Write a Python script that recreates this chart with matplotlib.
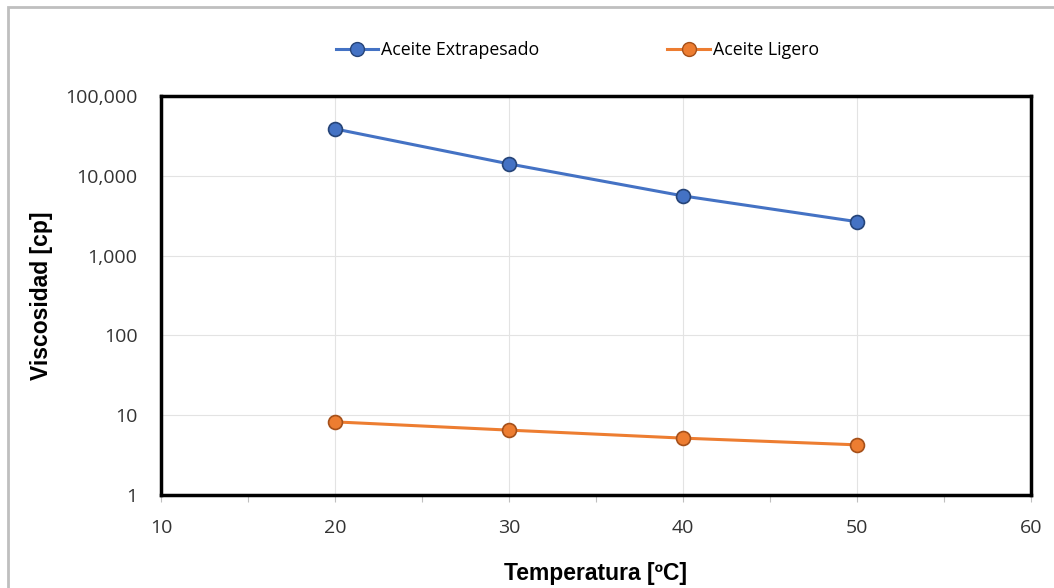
import matplotlib
matplotlib.use("Agg")
import matplotlib.pyplot as plt
from matplotlib.ticker import FuncFormatter, FixedLocator, MultipleLocator
from matplotlib.patches import Rectangle
from matplotlib.lines import Line2D

temperatura = [20, 30, 40, 50]
extrapesado = [38700, 14100, 5600, 2660]
ligero = [8.25, 6.5, 5.16, 4.25]
series_names = ["Aceite Extrapesado", "Aceite Ligero"]
x_ticks = [10, 20, 30, 40, 50, 60]
y_ticks = [1, 10, 100, 1000, 10000, 100000]

blue = "#4472C4"
blue_edge = "#264478"
orange = "#ED7D31"
orange_edge = "#A5501A"

fig = plt.figure(figsize=(10.54, 5.88), dpi=100)
fig.patch.set_facecolor("white")
fig.add_artist(Rectangle((8/1054, -0.1), 1.1, 1.1 - 7/588,
                         transform=fig.transFigure, fill=False,
                         edgecolor="#BFBFBF", linewidth=2))

ax = fig.add_axes([161/1054, 1 - 495/588, (1031-161)/1054, (495-96)/588])
ax.set_yscale("log")
ax.set_xlim(10, 60)
ax.set_ylim(1, 100000)

ax.plot(temperatura, extrapesado, color=blue, lw=2.2, marker="o", ms=10,
        markerfacecolor=blue, markeredgecolor=blue_edge, mew=1.2, label=series_names[0], zorder=3)
ax.plot(temperatura, ligero, color=orange, lw=2.2, marker="o", ms=10,
        markerfacecolor=orange, markeredgecolor=orange_edge, mew=1.2, label=series_names[1], zorder=3)

ax.xaxis.set_major_locator(FixedLocator(x_ticks))
ax.xaxis.set_minor_locator(MultipleLocator(5))
ax.yaxis.set_major_locator(FixedLocator(y_ticks))
ax.yaxis.set_minor_locator(FixedLocator([]))
ax.yaxis.set_major_formatter(FuncFormatter(lambda v, p: f"{int(round(v)):,}"))
ax.xaxis.set_major_formatter(FuncFormatter(lambda v, p: f"{int(v)}"))

ax.grid(True, which="major", color="#E3E3E3", lw=0.8, zorder=0)
ax.set_axisbelow(True)
for s in ax.spines.values():
    s.set_linewidth(2.5)
    s.set_color("black")

ax.tick_params(axis="x", which="both", length=5, color="#BFBFBF", width=0.8,
               direction="out", pad=12)
ax.tick_params(axis="y", which="major", length=0, pad=17)
for lab in ax.get_xticklabels() + ax.get_yticklabels():
    lab.set_fontfamily(["Open Sans", "DejaVu Sans"])
    lab.set_fontsize(14)
    lab.set_color("#333333")

label_font = dict(family=["Liberation Sans", "DejaVu Sans"],
                  size=16.5, weight="bold", color="black")
ax.set_xlabel("Temperatura [ºC]", labelpad=18, **label_font)
ax.set_ylabel("Viscosidad [cp]", labelpad=9, **label_font)

handles = [
    Line2D([], [], color=blue, lw=2.2, marker="o", ms=10, markerfacecolor=blue,
           markeredgecolor=blue_edge),
    Line2D([], [], color=orange, lw=2.2, marker="o", ms=10, markerfacecolor=orange,
           markeredgecolor=orange_edge),
]
fig.legend(handles, series_names, loc="center", bbox_to_anchor=(0.5476, 1 - 50/588),
           ncol=2, frameon=False, columnspacing=7.2, handlelength=2.4, handletextpad=0.15,
           prop=dict(family=["Open Sans", "DejaVu Sans"], size=12.8))

fig.savefig("out.png", dpi=100, facecolor="white")
